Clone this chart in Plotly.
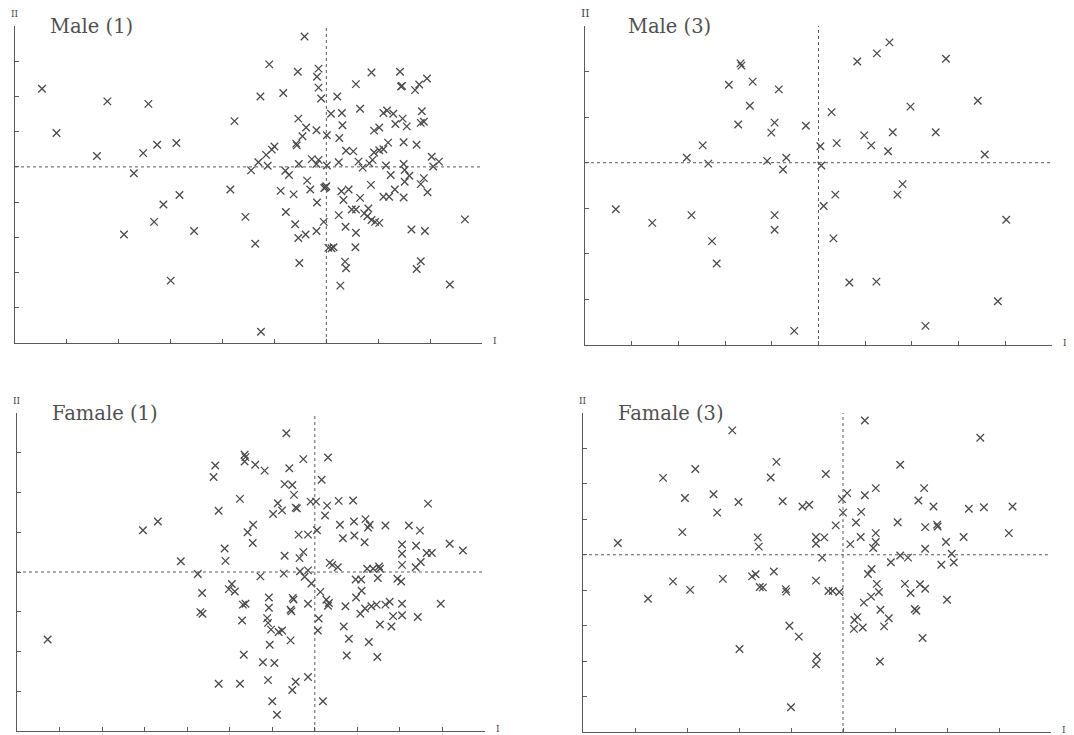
import plotly.graph_objects as go

# ---------------- data ----------------
male1_x = [-5.48, -5.20, -4.22, -3.43, -4.42, -3.53, -3.26, -2.89, -3.71, -2.83, -3.14, -3.32, -3.90, -2.55, -3.00,
           -1.77, -1.85, -1.56, -1.37, -1.45,
           -0.42, -1.10, -0.55, -0.15, -0.18, -0.15, -0.10, -1.27, -0.83, 0.21, 0.57, 0.87, 1.42, 1.44, 1.46, 1.71, 1.79, 1.94,
           0.09, 0.30, 0.31, 0.65, 1.10, 1.17, 1.29, 1.47, 1.33, 1.55, 1.84, 1.82, 1.88, 0.92, 1.02,
           -0.54, -0.39, -0.19, 0.01, -0.46, -0.58, -0.57, 0.25, 0.38, 0.52, -1.00, -1.05, -1.16, -1.31,
           -1.13, -0.79, -0.72, -0.53, -0.28, -0.15, -0.19, 0.01, 0.24, 0.62, 0.70, 0.83, 0.89, 0.92, 1.02, 1.10, 1.19,
           1.15, 1.24, 1.49, 1.74, 1.49, 1.51, 1.60, 1.51, 2.03, 2.17, 2.06, 1.88, 1.82, 1.95,
           -0.02, 0.00, -0.04, -0.37, -0.31, -0.88, -0.63, -0.18, -0.78, -0.60, -0.54, -0.40, -0.19, -0.05,
           0.29, 0.43, 0.33, 0.65, 0.86, 1.10, 1.21, 1.32, 1.49, 0.24, 0.49, 0.57, 0.73, 0.81, 0.79, 0.87, 0.94, 1.02,
           0.37, 0.57, 0.04, 0.14, 0.10, 0.56, 0.36, 0.38, 0.27, -0.52, 1.64, 1.90, 1.82, 1.74, 2.38, 2.67, -1.26]
male1_y = [2.22, 0.96, 1.86, 1.79, 0.31, 0.39, 0.63, 0.68, -0.18, -0.80, -1.07, -1.56, -1.92, -1.82, -3.23,
           1.30, -0.64, -1.42, -2.18, -0.10,
           3.70, 2.91, 2.70, 2.79, 2.56, 2.25, 1.94, 2.00, 2.10, 2.00, 2.35, 2.68, 2.70, 2.28, 2.30, 2.18, 2.34, 2.51,
           1.51, 1.53, 1.18, 1.65, 1.53, 1.60, 1.51, 1.37, 1.22, 1.15, 1.58, 1.25, 1.28, 1.03, 1.12,
           1.37, 1.12, 1.04, 0.90, 0.87, 0.66, 0.61, 0.82, 0.46, 0.44, 0.58, 0.49, 0.34, 0.13,
           0.03, -0.11, -0.23, 0.08, 0.22, 0.20, 0.08, 0.04, 0.13, 0.15, -0.02, 0.10, 0.20, 0.41, 0.47, 0.50, 0.69,
           0.04, -0.23, 0.70, 0.63, 0.08, -0.09, -0.25, -0.42, 0.29, 0.15, 0.01, -0.32, -0.49, -0.72,
           -0.58, -0.55, -0.60, -0.39, -0.64, -0.68, -0.78, -1.01, -1.28, -1.63, -2.02, -1.92, -1.82, -1.56,
           -0.69, -0.64, -0.94, -0.88, -0.51, -0.85, -0.85, -0.64, -0.87, -1.37, -1.21, -1.21, -1.32, -1.18, -1.40, -1.51, -1.56, -1.59,
           -1.70, -1.87, -2.30, -2.28, -2.31, -2.28, -2.69, -2.88, -3.37, -2.73, -1.78, -1.82, -2.68, -2.90, -3.34, -1.49, -4.68]

male3_x = [-1.67, -1.65, -1.92, -1.41, -0.85, -1.47, -1.72, -0.94, -1.01, -0.27, -2.48, -2.82, -2.36, -1.10, -0.69, -0.76,
           -4.34, -3.56, -2.72, -0.94, -0.94, -2.28, -2.18, -0.52,
           1.52, 1.25, 0.83, 2.73, 3.41, 1.97, 0.28, 0.98, 1.13, 1.59, 1.49, 2.51, 3.56, 0.39, 0.04, 0.06,
           1.80, 1.69, 0.36, 0.11, 0.32, 4.02, 0.66, 1.24, 3.84, 2.29]
male3_y = [2.18, 2.13, 1.71, 1.78, 1.61, 1.25, 0.84, 0.88, 0.66, 0.81, 0.38, 0.11, -0.02, 0.04, 0.11, -0.15,
           -1.02, -1.32, -1.15, -1.15, -1.47, -1.72, -2.21, -3.69,
           2.64, 2.40, 2.22, 2.28, 1.36, 1.23, 1.11, 0.60, 0.38, 0.67, 0.25, 0.67, 0.18, 0.43, 0.36, -0.06,
           -0.47, -0.70, -0.70, -0.95, -1.66, -1.25, -2.63, -2.61, -3.04, -3.58]

female1_x = [-6.28, -4.04, -3.69, -3.15, -2.75, -2.65, -2.69, -2.64, -2.34, -2.38, -2.26, -2.12, -2.10, -1.76,
             -1.65, -1.63, -1.65, -1.40, -1.58, -1.45, -1.46, -1.95, -2.02, -1.88, -1.69, -1.63, -1.71, -1.67, -2.26, -1.76,
             -0.67, -1.18, -0.60, -0.27, 0.31, 0.16, -0.71, -0.53, -0.49, -0.45, -0.42, -0.87, -0.98, -0.77,
             -0.10, 0.03, 0.29, 0.24, 0.56, 0.90, 2.66, 0.05, -0.38, -0.16,
             0.59, 0.92, 1.19, 1.25, 1.29, 1.66, 2.21, 2.47, 0.66, 0.93, 1.17, 2.05, 2.05, 2.38, 2.63, 2.75, 3.17, 3.48,
             2.05, 2.37, 2.49, -0.71, -0.36, -0.27, -0.35, -0.16, -0.24, -0.08, -0.73, -1.28,
             0.35, 0.41, 0.54, 1.23, 1.37, 1.51, 1.53, 1.48, 0.96, 1.09, 1.94, 2.03, 1.10, 0.97,
             0.13, 0.27, 0.33, 0.31, -0.16, 0.72, 1.07, 1.18, 1.33, 1.45, 1.66, 1.76, 2.05, 2.96,
             1.84, 2.05, 2.42, 1.53, 1.80, 0.68, -0.52, -0.50, -0.57, -0.55,
             -1.08, -1.08, -1.12, -1.10, -1.03, -0.85, -0.77, -0.57, -1.06, 0.09, 0.07, 0.80, 1.27, 0.75, 1.47,
             -1.22, -0.95, -1.10, -0.45, -0.53, -0.16, -1.00, -0.89, 0.19]
female1_y = [-1.70, 1.05, 1.27, 0.27, -0.05, -0.53, -1.01, -1.05, 2.68, 2.39, 1.54, 0.59, 0.28, 1.84,
             2.95, 2.89, 2.78, 2.70, 1.00, 1.19, 0.73, -0.30, -0.43, -0.49, -0.82, -0.80, -1.22, -2.08, -2.81, -2.81,
             3.49, 2.55, 2.61, 2.84, 2.88, 2.32, 2.21, 2.19, 1.94, 1.62, 1.60, 1.73, 1.46, 1.55,
             1.77, 1.77, 1.67, 1.42, 1.79, 1.80, 1.72, 1.05, 0.94, 0.94,
             1.19, 1.27, 1.33, 1.12, 1.19, 1.17, 1.17, 1.04, 0.85, 0.92, 0.75, 0.69, 0.46, 0.66, 0.48, 0.48, 0.71, 0.54,
             0.18, 0.12, 0.25, 0.41, 0.35, 0.50, 0.02, 0.04, -0.12, -0.29, -0.04, -0.11,
             0.23, 0.18, 0.12, 0.08, 0.08, 0.14, 0.08, -0.15, -0.19, -0.19, -0.17, -0.24, -0.47, -0.64,
             -0.50, -0.70, -0.78, -0.85, -0.80, -0.86, -1.05, -0.92, -0.86, -0.82, -0.82, -0.75, -0.80, -0.80,
             -1.11, -1.09, -1.13, -1.32, -1.37, -1.37, -0.65, -0.69, -0.95, -0.99,
             -0.64, -0.90, -1.16, -1.28, -1.45, -1.51, -1.47, -1.72, -1.83, -1.17, -1.47, -1.68, -1.76, -2.10, -2.14,
             -2.27, -2.29, -2.72, -2.76, -2.97, -2.64, -3.25, -3.59, -3.25]

female3_x = [-4.33, -3.46, -2.84, -2.13, -3.04, -2.49, -2.42, -2.01, -3.09, -1.28, -1.39, -1.16, -0.78, -0.65,
             -1.64, -1.62, -0.52, -0.52, -3.75, -3.27, -2.94, -2.31, -1.75, -1.68, -1.60, -1.54, -1.33, -1.10, -1.09,
             -0.52, -1.03, -0.85, -1.99, -0.50, -0.52, -1.00,
             0.42, 2.64, 1.10, -0.33, 0.63, 0.42, 0.08, -0.02, 0.00, 0.35, 1.56, 1.45, 1.74, 2.42, 2.71, 3.26,
             -0.14, 0.25, 1.05, 1.58, 1.81, 1.82, 2.32, 3.19, -0.36, 0.14, 0.34, 0.63, 0.63, 0.58, 1.98, 1.58,
             -0.40, 1.10, 1.25, 0.92, 2.09, 2.13, 1.89, -0.28, -0.20, -0.07, 0.55, 0.48, 0.65, 0.69, 0.54, 0.40,
             1.19, 1.30, 1.48, 1.58, 2.00, 1.38, 1.41, 0.72, 0.88, 0.79, 0.22, 0.28, 0.21, 0.38, 1.53, 0.71]
female3_y = [0.33, 2.17, 2.42, 3.51, 1.60, 1.71, 1.19, 1.49, 0.64, 2.62, 2.18, 1.51, 1.36, 1.41,
             0.49, 0.23, 0.50, 0.31, -1.24, -0.75, -0.99, -0.68, -0.61, -0.55, -0.91, -0.92, -0.47, -0.97, -1.04,
             -0.73, -2.00, -2.31, -2.66, -2.87, -3.09, -4.30,
             3.79, 3.30, 2.54, 2.28, 1.88, 1.68, 1.74, 1.57, 1.19, 1.21, 1.88, 1.53, 1.36, 1.30, 1.34, 1.36,
             0.83, 0.91, 0.92, 0.78, 0.85, 0.80, 0.50, 0.61, 0.49, 0.30, 0.50, 0.61, 0.36, 0.19, 0.36, 0.17,
             -0.08, -0.02, -0.08, -0.21, 0.03, -0.22, -0.28, -1.02, -1.02, -1.05, -0.40, -0.54, -0.82, -1.05, -1.18, -1.35,
             -0.82, -1.08, -0.83, -0.96, -1.27, -1.53, -1.58, -1.55, -1.79, -2.02, -1.84, -1.76, -2.09, -2.05, -2.35, -3.01]

panel_titles = ["Male (1)", "Male (3)", "Famale (1)", "Famale (3)"]
x_ranges = [(-6, 3), (-5, 5), (-7, 4), (-5, 4)]
y_ranges = [(-5, 4), (-4, 3), (-4, 4), (-5, 4)]

# ---------------- layout geometry ----------------
# the page body has an 8px margin (top/left); the figure fills the rest of the window
OFF = 8
W, H = 1074 - OFF, 735 - OFF
# window-pixel boxes of the four plot areas: (left, right, top, bottom)
boxes = [(15, 482, 26, 343), (585, 1052, 26, 345), (17, 485, 413, 731), (583, 1051, 413, 732)]
series = [(male1_x, male1_y), (male3_x, male3_y), (female1_x, female1_y), (female3_x, female3_y)]
ii_sizes = [9, 11, 9, 9]

AX = "#5a5a5a"
MK = "#4a4a4a"
SERIF = "DejaVu Serif"


def px(v):
    return (v - OFF) / W


def py(v):
    return 1 - (v - OFF) / H


fig = go.Figure()
layout = dict(width=W, height=H, margin=dict(l=0, r=0, t=0, b=0),
              paper_bgcolor="white", plot_bgcolor="white", showlegend=False)
shapes, annotations = [], []

for i, ((xs, ys), (l, r, t, b)) in enumerate(zip(series, boxes)):
    n = "" if i == 0 else str(i + 1)
    fig.add_trace(go.Scatter(x=xs, y=ys, mode="markers", xaxis="x" + n, yaxis="y" + n,
                             marker=dict(symbol="x-thin", size=7.5, line=dict(width=1.3, color=MK), color=MK),
                             hoverinfo="x+y"))
    common = dict(showgrid=False, zeroline=False, showline=True, linecolor=AX, linewidth=1,
                  ticks="inside", ticklen=4, tickwidth=1, tickcolor=AX, showticklabels=False,
                  dtick=1, tick0=0)
    layout["xaxis" + n] = dict(common, domain=[px(l), min(px(r), 1)], range=list(x_ranges[i]),
                               anchor="y" + n)
    layout["yaxis" + n] = dict(common, domain=[max(py(b), 0), py(t)], range=list(y_ranges[i]),
                               anchor="x" + n)
    # dotted reference lines through the origin
    shapes.append(dict(type="line", xref="x" + n, yref="y" + n + " domain", x0=0, x1=0, y0=0, y1=1,
                       line=dict(color=AX, width=1, dash="dot")))
    shapes.append(dict(type="line", xref="x" + n + " domain", yref="y" + n, x0=0, x1=1, y0=0, y1=0,
                       line=dict(color=AX, width=1, dash="dot")))
    # panel title
    annotations.append(dict(text=panel_titles[i], xref="x" + n + " domain", yref="y" + n + " domain",
                            x=0.07 if i != 1 else 0.088, y=1.0, xanchor="left", yanchor="middle",
                            showarrow=False, font=dict(family=SERIF, size=19.5, color="#505050")))
    # axis names
    annotations.append(dict(text="II", xref="paper", yref="paper", x=px(l), y=py(t - 12),
                            xanchor="center", yanchor="middle", showarrow=False,
                            font=dict(family=SERIF, size=ii_sizes[i], color="#444")))
    annotations.append(dict(text="I", xref="paper", yref="paper", x=min(px(r + 13), 0.995), y=py(b - 2),
                            xanchor="center", yanchor="middle", showarrow=False,
                            font=dict(family=SERIF, size=9, color="#444")))

layout["shapes"] = shapes
layout["annotations"] = annotations
fig.update_layout(**layout)
fig.write_html("out.html")
